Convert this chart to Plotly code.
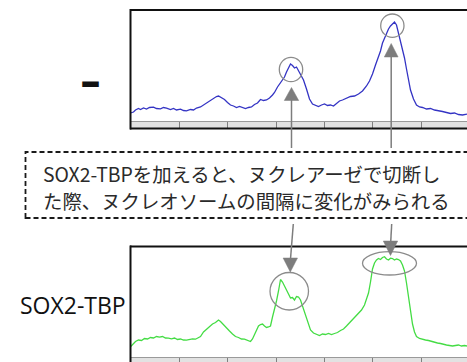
import plotly.graph_objects as go

W, H = 467, 362

# ---- data (position offset along the track, signal height) ----
ctrl_x = [0, 3, 5, 8, 10, 13, 16, 19, 23, 26, 30, 33, 36, 40, 43, 46, 50, 53, 56, 60, 63, 66, 70, 73, 76,
          80, 83, 86, 88, 91, 94, 97, 100, 103, 106, 109, 112, 115, 118, 121, 124, 127, 130, 133, 136,
          139, 142, 144, 147, 150, 152, 154, 156, 158, 160, 162, 164, 166, 168, 170, 173, 176, 179, 182,
          185, 188, 191, 194, 197, 200, 203, 206, 209, 212, 216, 220, 224, 228, 232, 236, 239, 242, 245,
          248, 250, 252, 254, 256, 258, 260, 262, 264, 266, 268, 270, 272, 274, 276, 278, 280, 283, 286,
          289, 292, 296, 300, 304, 308, 312, 316, 320, 324, 328, 332, 336.5]
ctrl_y = [8, 9, 11, 12.5, 11.5, 13, 12, 13.5, 13.8, 12.5, 12.2, 13.5, 12.8, 11.5, 12.5, 11, 11.8, 10.5,
          10.2, 11.5, 11, 13, 14, 16, 17.5, 20, 22.5, 24.5, 25, 23, 21.5, 18.5, 16, 15, 13.5, 14.5, 13.8,
          12.5, 13.5, 14, 16.5, 18, 21.5, 20.5, 21, 23, 26, 28.5, 34, 38, 41, 44, 49, 53, 57, 55.5, 53,
          54, 50, 47, 41, 32, 22, 17, 15.5, 14.5, 16, 17, 15.5, 16, 15, 17.5, 20, 21, 23, 24.5, 25, 27,
          30, 35, 40, 47, 56, 64, 70, 78, 83, 88, 92, 95, 97.5, 99, 96, 88, 80, 72, 63, 52, 40, 31, 22,
          16, 14, 13.5, 12, 12.5, 11, 10.5, 9.5, 8.5, 7.5, 8, 6.5, 6, 6.8]

sox_x = [0, 3, 5, 8, 11, 14, 17, 20, 23, 26, 29, 32, 35, 38, 41, 44, 47, 50, 53, 56, 59, 62, 65, 68, 70,
         73, 76, 79, 82, 85, 88, 90, 93, 96, 99, 102, 105, 108, 111, 114, 117, 120, 122, 124, 126, 128,
         130, 132, 134, 136, 138, 140, 142, 144, 146, 148, 150, 152, 154, 156, 158, 160, 162, 164, 166,
         168, 170, 172, 174, 176, 178, 180, 183, 186, 189, 192, 195, 198, 201, 204, 207, 210, 213, 216,
         219, 222, 225, 228, 231, 234, 236, 238, 240, 242, 244, 246, 248, 250, 252, 254, 256, 258, 260,
         262, 264, 266, 268, 270, 272, 274, 276, 278, 280, 282, 284, 286, 289, 292, 295, 298, 301, 304,
         307, 310, 313, 316, 319, 322, 325, 328, 331, 334, 336.5]
sox_y = [10.3, 13.5, 15.5, 17, 16.5, 18.5, 18, 19.5, 19, 20.5, 19.8, 20.5, 19, 18.8, 18.2, 19, 17.5, 18,
         17, 16.8, 17.5, 18.2, 17.8, 19.5, 20.5, 25, 28, 30, 33, 34.5, 37, 35.5, 32, 29, 26, 23, 20.5,
         19.5, 18, 17.8, 16.5, 15.5, 18, 22, 27.5, 31, 32.5, 33, 31, 29.5, 30, 31, 40, 47, 56, 66, 77.5,
         75, 70, 67, 63, 59, 59.5, 57, 60.5, 60, 57, 51, 45, 37, 31, 27, 24, 22.5, 21.5, 23, 22.5, 23.5,
         22.5, 23.5, 24.5, 26.5, 28, 31, 34, 37.5, 40, 43, 47, 52, 58, 64, 75, 88, 94, 97, 98.5, 97.5,
         99.5, 100.3, 98, 97, 98.8, 98.5, 97, 98, 97.5, 96, 92, 86, 74, 60, 45, 33, 25, 20.5, 18.5, 17.5,
         17, 16.5, 15.5, 15, 14, 13.5, 12.5, 12, 11.5, 11, 11.5, 12, 11, 11.5, 11]

tick_positions = [48.5, 96.5, 145.5, 193.5, 241.5, 290.5]

panel_labels = ["\u2013", "SOX2-TBP"]
note_lines = ["SOX2-TBPを加えると、ヌクレアーゼで切断し",
              "た際、ヌクレオソームの間隔に変化がみられる"]


def px(x):
    return x / W


def py(y):
    return 1 - y / H


fig = go.Figure()
fig.add_trace(go.Scatter(x=ctrl_x, y=ctrl_y, mode="lines", line=dict(color="#3434c4", width=1.3),
                         xaxis="x", yaxis="y", showlegend=False, hoverinfo="skip"))
fig.add_trace(go.Scatter(x=sox_x, y=sox_y, mode="lines", line=dict(color="#44dc44", width=1.3),
                         xaxis="x2", yaxis="y2", showlegend=False, hoverinfo="skip"))

xcommon = dict(range=[0, 336.5], showgrid=False, zeroline=False, showticklabels=False,
               showline=True, linecolor="#9a9a9a", linewidth=1,
               ticks="outside", tickvals=tick_positions, ticklen=6, tickcolor="#808080", tickwidth=1,
               fixedrange=True)
ycommon = dict(range=[0, 111], showgrid=False, zeroline=False, showticklabels=False,
               showline=False, ticks="", fixedrange=True)

fig.update_layout(
    width=W, height=H, margin=dict(l=0, r=0, t=0, b=0),
    paper_bgcolor="white", plot_bgcolor="white",
    xaxis=dict(domain=[130.5 / W, 1], anchor="y", **xcommon),
    yaxis=dict(domain=[py(121), py(10)], anchor="x", **ycommon),
    xaxis2=dict(domain=[130.5 / W, 1], anchor="y2", **xcommon),
    yaxis2=dict(domain=[py(357), py(246)], anchor="x2", **ycommon),
)

shapes = []
# strips under each track
for top, bot in [(121, 128), (357, 366)]:
    shapes.append(dict(type="rect", xref="paper", yref="paper", x0=px(131), x1=px(480),
                       y0=py(bot), y1=py(top), fillcolor="#e2e2e2", line=dict(width=0), layer="below"))
# frames
frame = dict(color="#111111", width=2)
shapes += [
    dict(type="line", xref="paper", yref="paper", x0=px(130), x1=px(480), y0=py(10), y1=py(10), line=frame),
    dict(type="line", xref="paper", yref="paper", x0=px(130.5), x1=px(130.5), y0=py(9), y1=py(129.5), line=frame),
    dict(type="line", xref="paper", yref="paper", x0=px(130), x1=px(480), y0=py(128.5), y1=py(128.5), line=frame),
    dict(type="line", xref="paper", yref="paper", x0=px(130), x1=px(480), y0=py(246.5), y1=py(246.5), line=frame),
    dict(type="line", xref="paper", yref="paper", x0=px(130.5), x1=px(130.5), y0=py(245.5), y1=py(370), line=frame),
]
# dashed note box
shapes.append(dict(type="rect", xref="paper", yref="paper", x0=px(25.5), x1=px(490), y0=py(218), y1=py(152),
                   line=dict(color="#1a1a1a", width=1.8, dash="5px,3px")))

# circles around peaks (data coords)
gray = "#8c8c8c"
circles = [("x", "y", 148.8, 39.3, 172.2, 63.7), ("x", "y", 250.2, 83.7, 273.5, 107),
           ("x2", "y2", 139.5, 47, 178, 84.5), ("x2", "y2", 232, 82, 286, 105.3)]
for xr, yr, x0, y0, x1, y1 in circles:
    shapes.append(dict(type="circle", xref=xr, yref=yr, x0=x0, x1=x1, y0=y0, y1=y1,
                       line=dict(color=gray, width=1.3)))

# arrows
agray = "#7d7d7d"
lines = [(291.5, 100, 291.5, 148), (391.2, 56, 391.2, 148),
         (293.3, 224, 290.5, 259), (391.7, 224, 390.7, 242)]
for x0, y0, x1, y1 in lines:
    shapes.append(dict(type="line", xref="paper", yref="paper", x0=px(x0), x1=px(x1), y0=py(y0), y1=py(y1),
                       line=dict(color=agray, width=1.5)))
tris = [((291.5, 87.5), (284.3, 100.5), (298.7, 100.5)),
        ((391.2, 43.5), (384.3, 57), (398.1, 57)),
        ((290.3, 272), (283.1, 258), (297.5, 258)),
        ((390.5, 255.5), (383.3, 241), (397.7, 241))]
for a, b, c in tris:
    path = "M {} {} L {} {} L {} {} Z".format(px(a[0]), py(a[1]), px(b[0]), py(b[1]), px(c[0]), py(c[1]))
    shapes.append(dict(type="path", xref="paper", yref="paper", path=path, fillcolor=agray,
                       line=dict(color=agray, width=0.5)))

fig.update_layout(shapes=shapes)

ann = []
ann.append(dict(xref="paper", yref="paper", x=px(90), y=py(82), text="<b>" + panel_labels[0] + "</b>",
                showarrow=False, xanchor="center", yanchor="middle",
                font=dict(family="DejaVu Sans", size=42, color="#111111")))
ann.append(dict(xref="paper", yref="paper", x=px(128), y=py(305), text=panel_labels[1],
                showarrow=False, xanchor="right", yanchor="middle",
                font=dict(family="Open Sans", size=23, color="#111111")))
for i, t in enumerate(note_lines):
    ann.append(dict(xref="paper", yref="paper", x=px(41), y=py(173 + 27 * i), text=t,
                    showarrow=False, xanchor="left", yanchor="middle",
                    font=dict(family="Noto Sans CJK JP", size=19.4, color="#2a2a2a")))
fig.update_layout(annotations=ann)

fig.write_html("out.html", config={"displayModeBar": False},
               post_script="document.body.style.margin='0';document.body.style.overflow='hidden';")
